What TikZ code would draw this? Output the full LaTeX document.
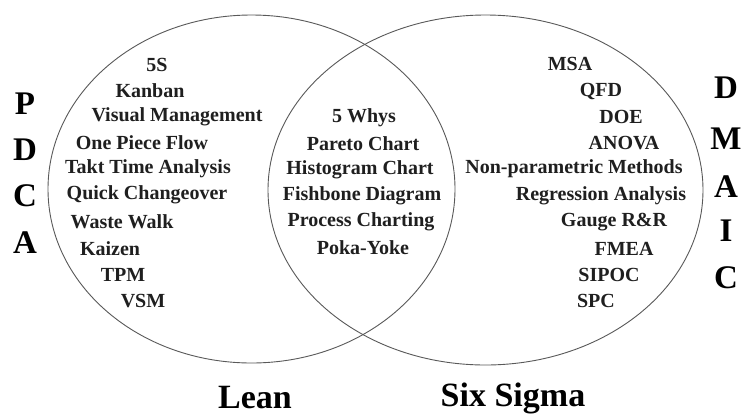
\documentclass[tikz,border=0pt]{standalone}
\usepackage{fontspec}
\setmainfont{Liberation Serif}
\begin{document}
\begin{tikzpicture}[x=1pt,y=-1pt,
  item/.style={font=\fontsize{20}{20}\selectfont\bfseries, text=black!88, inner sep=0pt, anchor=center},
  cycleletter/.style={font=\fontsize{33}{33}\selectfont\bfseries, text=black, inner sep=0pt, anchor=center},
  setlabel/.style={font=\fontsize{34}{34}\selectfont\bfseries, text=black, inner sep=0pt, anchor=base},
  setline/.style={draw=black!65, line width=0.9pt}]
\useasboundingbox[fill=white] (0,0) rectangle (748,416);
% sets
\draw[setline] (251.5,189) ellipse [x radius=203.5pt, y radius=174pt];
\draw[setline] (485.5,190) ellipse [x radius=217.5pt, y radius=175pt];
% Lean items
\node[item] (l1) at (157,65) {5S};
\node[item] (l2) at (150,91) {Kanban};
\node[item] (l3) at (177,117) {Visual Management};
\node[item] (l4) at (142,143) {One Piece Flow};
\node[item] (l5) at (148,169) {Takt Time Analysis};
\node[item] (l6) at (147,195) {Quick Changeover};
\node[item] (l7) at (122,222) {Waste Walk};
\node[item] (l8) at (110,249) {Kaizen};
\node[item] (l9) at (123,275) {TPM};
\node[item] (l10) at (143,301) {VSM};
% shared items
\node[item] (m1) at (364,118) {5 Whys};
\node[item] (m2) at (363,144) {Pareto Chart};
\node[item] (m3) at (360,170) {Histogram Chart};
\node[item] (m4) at (362,196) {Fishbone Diagram};
\node[item] (m5) at (361,222) {Process Charting};
\node[item] (m6) at (363,248) {Poka-Yoke};
% Six Sigma items
\node[item] (s1) at (570,64) {MSA};
\node[item] (s2) at (601,91) {QFD};
\node[item] (s3) at (621,117) {DOE};
\node[item] (s4) at (624,143) {ANOVA};
\node[item] (s5) at (574,169) {Non-parametric Methods};
\node[item] (s6) at (601,196) {Regression Analysis};
\node[item] (s7) at (614,222) {Gauge R\&R};
\node[item] (s8) at (624,249) {FMEA};
\node[item] (s9) at (609,275) {SIPOC};
\node[item] (s10) at (596,301) {SPC};
% PDCA
\node[cycleletter] (p1) at (25,104) {P};
\node[cycleletter] (p2) at (25,150) {D};
\node[cycleletter] (p3) at (25,196) {C};
\node[cycleletter] (p4) at (25,243) {A};
% DMAIC
\node[cycleletter] (d1) at (726,88) {D};
\node[cycleletter] (d2) at (726,139) {M};
\node[cycleletter] (d3) at (726,187) {A};
\node[cycleletter] (d4) at (726,231) {I};
\node[cycleletter] (d5) at (726,278) {C};
% set labels
\node[setlabel] (lean) at (255,408) {Lean};
\node[setlabel] (six) at (513,406) {Six Sigma};
\end{tikzpicture}
\end{document}
